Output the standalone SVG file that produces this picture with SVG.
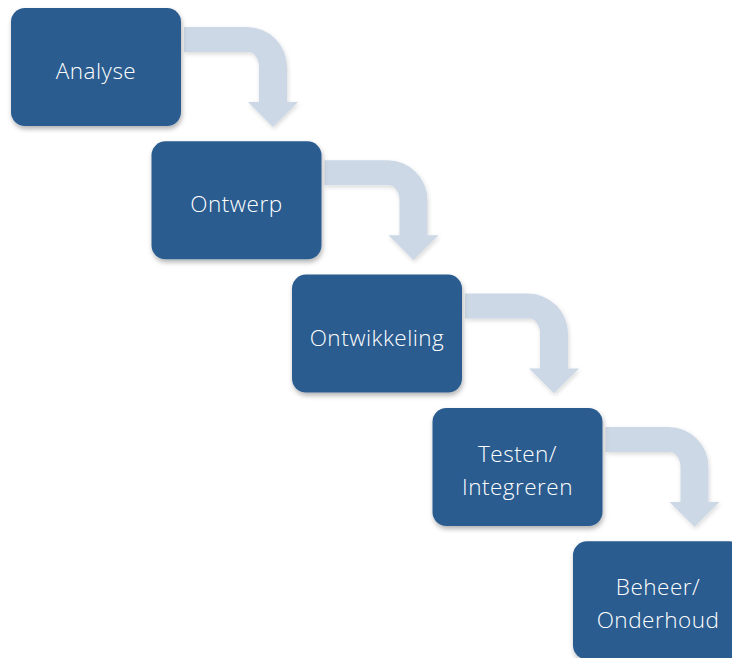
<svg xmlns="http://www.w3.org/2000/svg" width="732" height="658" viewBox="0 0 732 658">
  <defs>
    <filter id="sh" x="-20%" y="-20%" width="140%" height="150%">
      <feDropShadow dx="1" dy="3" stdDeviation="2.5" flood-color="#000" flood-opacity="0.3"/>
    </filter>
    <filter id="ash" x="-20%" y="-20%" width="140%" height="150%">
      <feDropShadow dx="1" dy="2" stdDeviation="2" flood-color="#000" flood-opacity="0.15"/>
    </filter>
    <path id="bent" d="M0,0 L63,0 A40,40 0 0 1 103,40 L103,75 L114,75 L89,100 L64,75 L75,75 L75,40 A11,15 0 0 0 64,25 L0,25 Z"/>
  </defs>
  <style>
    .box { fill: #295C8F; filter: url(#sh); }
    .arrow { fill: #CDD8E6; filter: url(#ash); }
    .lbl { fill: #FFFFFF; font-family: "Open Sans", "Liberation Sans", Arial, sans-serif; font-weight: 300; font-size: 22.5px; text-anchor: middle; letter-spacing: 0.5px; }
  </style>
  <rect width="732" height="658" fill="#FFFFFF"/>

  <g id="connectors">
    <use href="#bent" class="arrow" x="184" y="27"/>
    <use href="#bent" class="arrow" x="324.5" y="160.3"/>
    <use href="#bent" class="arrow" x="465" y="293.6"/>
    <use href="#bent" class="arrow" x="605.5" y="427"/>
  </g>

  <g id="analyse">
    <rect class="box" x="11" y="8" width="170" height="118" rx="14"/>
    <text class="lbl" x="96" y="79">Analyse</text>
  </g>
  <g id="ontwerp">
    <rect class="box" x="151.5" y="141.3" width="170" height="118" rx="14"/>
    <text class="lbl" x="236.5" y="212.3">Ontwerp</text>
  </g>
  <g id="ontwikkeling">
    <rect class="box" x="292" y="274.6" width="170" height="118" rx="14"/>
    <text class="lbl" x="377" y="345.6">Ontwikkeling</text>
  </g>
  <g id="testen">
    <rect class="box" x="432.5" y="408" width="170" height="118" rx="14"/>
    <text class="lbl" x="517.5" y="462">Testen/</text>
    <text class="lbl" x="517.5" y="495">Integreren</text>
  </g>
  <g id="beheer">
    <rect class="box" x="573" y="541.3" width="170" height="118" rx="14"/>
    <text class="lbl" x="658" y="595">Beheer/</text>
    <text class="lbl" x="658" y="627.5">Onderhoud</text>
  </g>
</svg>
